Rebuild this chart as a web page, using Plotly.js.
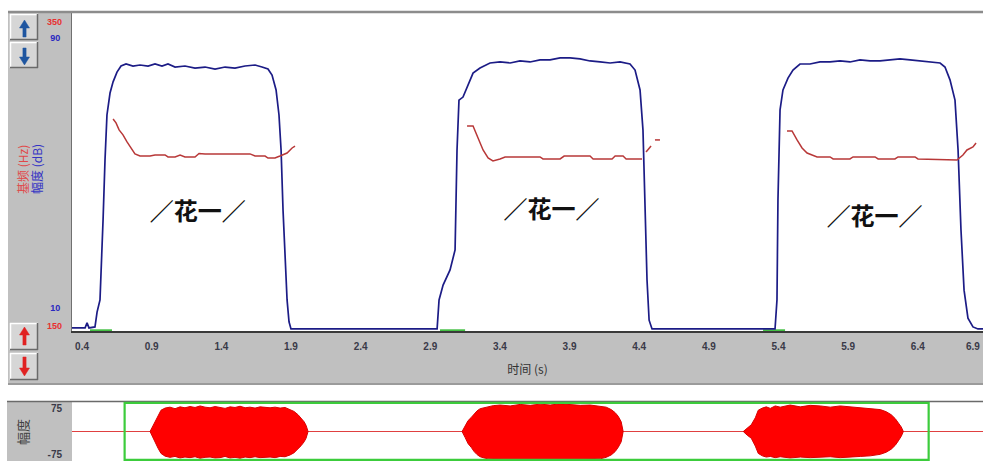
<!DOCTYPE html>
<html><head><meta charset="utf-8">
<script src="https://cdn.plot.ly/plotly-3.0.1.min.js"></script>
<style>html,body{margin:0;padding:0;background:#fff;}#chart{width:983px;height:461px;}</style>
</head><body><div id="chart"></div>
<script>
// ---------- data ----------
const xTickVals = [0.4,0.9,1.4,1.9,2.4,2.9,3.4,3.9,4.4,4.9,5.4,5.9,6.4,6.9];
const xTickText = ['0.4','0.9','1.4','1.9','2.4','2.9','3.4','3.9','4.4','4.9','5.4','5.9','6.4','6.9'];
const dbTickVals = [10, 90];
const hzTickVals = [150, 350];
const ampTickVals = [75, -75];
const ampTickText = ['75', '-75'];

const intensityTime = [0.328,0.422,0.436,0.450,0.493,0.508,0.529,0.544,0.551,0.565,0.579,0.601,0.623,0.651,0.680,0.716,0.766,0.816,0.874,0.924,0.974,1.017,1.068,1.139,1.211,1.283,1.355,1.427,1.498,1.570,1.642,1.692,1.735,1.764,1.793,1.814,1.829,1.843,1.857,1.872,1.886,1.900,2.200,2.600,2.949,2.963,2.992,3.042,3.078,3.092,3.106,3.135,3.171,3.207,3.257,3.329,3.401,3.473,3.544,3.616,3.688,3.760,3.832,3.904,3.975,4.047,4.119,4.191,4.262,4.334,4.370,4.406,4.427,4.442,4.456,4.471,4.492,4.800,5.100,5.375,5.389,5.396,5.411,5.432,5.468,5.504,5.554,5.626,5.698,5.770,5.842,5.913,5.985,6.057,6.129,6.201,6.272,6.344,6.416,6.488,6.560,6.595,6.631,6.667,6.689,6.710,6.732,6.760,6.796,6.832,6.868];
const intensityDb = [4.1,4.1,5.6,4.1,4.4,8.8,12.4,27.0,36.1,53.9,67.2,73.7,77.0,79.9,81.7,82.3,81.7,82.0,81.7,82.3,81.7,82.3,81.4,81.7,81.1,81.4,80.8,81.4,81.1,81.7,82.0,81.4,80.8,79.0,74.6,67.2,56.8,39.0,24.2,12.4,5.9,3.8,3.8,3.8,3.8,12.4,16.8,21.3,27.2,56.8,71.6,72.5,76.1,79.6,81.1,82.6,82.9,82.6,83.2,82.9,83.5,83.5,84.1,84.1,83.8,83.2,82.9,82.6,82.9,82.3,80.5,74.6,62.7,42.0,18.3,6.4,3.8,3.8,3.8,3.8,12.4,42.0,68.7,74.6,78.1,80.5,82.3,82.3,82.9,82.9,83.2,82.9,83.5,83.2,83.2,83.5,83.8,83.5,83.2,82.9,82.6,81.4,77.6,71.6,56.8,33.1,15.3,7.0,4.4,3.8,3.8];

const pitchTime = [0.623,0.644,0.666,0.694,0.723,0.752,0.780,0.816,0.888,0.924,0.996,1.017,1.068,1.104,1.139,1.211,1.240,1.283,1.462,1.606,1.642,1.714,1.735,1.785,1.821,1.872,1.908,1.929,null,3.164,3.207,3.243,3.279,3.315,3.350,3.401,3.437,3.616,3.688,3.709,3.832,3.861,4.047,4.069,4.205,4.227,4.284,4.306,4.420,null,4.449,4.485,null,4.513,4.549,null,5.461,5.497,5.533,5.569,5.605,5.641,5.677,5.770,5.792,5.913,5.935,6.093,6.115,6.236,6.258,6.380,6.401,6.681,6.724,6.753,6.796,6.818];
const pitchHz = [286.2,283.6,279.0,275.7,271.1,267.1,263.2,261.8,261.8,262.5,262.5,261.2,261.2,262.5,261.2,261.2,263.5,263.2,263.2,263.2,261.8,261.8,260.5,260.5,261.8,263.8,267.1,268.4,null,281.6,281.6,273.7,265.8,260.5,258.6,259.9,261.2,261.2,261.2,259.9,259.9,261.8,261.8,259.9,259.9,261.8,261.8,259.9,259.9,null,264.5,268.4,null,272.4,272.4,null,278.3,278.3,272.4,267.1,263.8,262.5,261.2,261.2,259.9,259.9,261.2,261.2,259.9,259.9,261.2,261.2,259.9,259.2,262.5,265.8,267.8,270.4];

const voicingTime = [0.457,0.615,null,2.970,3.150,null,5.289,5.447];
const voicingDb = [3.4,3.4,null,3.4,3.4,null,3.4,3.4];

const wave1Time = [0.535,0.551,0.575,0.600,0.624,0.657,0.697,0.738,0.779,0.819,0.860,0.901,0.942,0.982,1.023,1.064,1.104,1.145,1.186,1.226,1.267,1.308,1.348,1.389,1.430,1.470,1.511,1.552,1.593,1.633,1.674,1.706,1.739,1.763,1.788,1.804,1.820];
const wave1Top = [0,12,30,52,70,77,80,75,81,78,82,79,84,80,78,82,80,76,81,79,83,78,80,77,81,79,78,80,77,79,73,66,55,45,32,20,0];
const wave1Bottom = [0,-14,-32,-55,-72,-81,-85,-82,-87,-84,-86,-83,-88,-85,-84,-87,-86,-82,-87,-85,-88,-84,-86,-83,-86,-85,-84,-86,-82,-83,-77,-70,-58,-47,-34,-22,0];

const wave2Time = [3.073,3.098,3.122,3.147,3.171,3.195,3.220,3.252,3.285,3.326,3.383,3.464,3.545,3.627,3.708,3.789,3.871,3.952,4.034,4.115,4.196,4.245,4.286,4.318,4.343,4.367,4.383];
const wave2Top = [0,18,36,46,58,68,75,78,83,85,87,84,89,86,90,87,91,88,86,87,84,80,72,62,50,32,0];
const wave2Bottom = [0,-20,-40,-52,-66,-76,-83,-87,-90,-92,-91,-93,-95,-92,-94,-93,-95,-92,-93,-91,-90,-85,-77,-66,-52,-34,0];

const wave3Time = [5.360,5.392,5.425,5.458,5.482,5.515,5.547,5.580,5.620,5.661,5.742,5.824,5.905,5.986,6.068,6.149,6.231,6.312,6.393,6.475,6.523,6.564,6.597,6.621,6.645,6.662];
const wave3Top = [0,12,22,45,70,77,81,76,84,80,87,81,86,84,80,84,81,78,77,72,65,55,42,29,15,0];
const wave3Bottom = [0,-12,-22,-48,-72,-80,-84,-82,-86,-83,-87,-84,-86,-85,-83,-86,-84,-82,-80,-75,-68,-58,-45,-31,-16,0];

const syllableText = ['／花一／','／花一／','／花一／'];
const syllableTime = [1.23, 3.77, 6.09];
const syllableDb = [38, 38.5, 36.5];

// ---------- layout helpers ----------
const W = 983, H = 461;
const PX = x => x / W;
const PY = y => 1 - y / H;
const topRange = [0.328, 6.868];
const waveRange = [-0.10, 7.31];

const tickFont = {family: 'Liberation Sans, Arial, sans-serif', size: 10, color: '#3a3a48', weight: 'bold'};

function envelope(t, top, bot) {
  return {x: t.concat(t.slice().reverse()), y: top.concat(bot.slice().reverse())};
}
const waves = [[wave1Time, wave1Top, wave1Bottom],[wave2Time, wave2Top, wave2Bottom],[wave3Time, wave3Top, wave3Bottom]];

const traces = [
  {x: voicingTime, y: voicingDb, mode: 'lines', line: {color: '#44c044', width: 2}, xaxis: 'x', yaxis: 'y', connectgaps: false, hoverinfo: 'skip'},
  {x: intensityTime, y: intensityDb, mode: 'lines', line: {color: '#1c1c86', width: 1.7}, xaxis: 'x', yaxis: 'y', hoverinfo: 'skip'},
  {x: pitchTime, y: pitchHz, mode: 'lines', line: {color: '#b83838', width: 1.5}, xaxis: 'x', yaxis: 'y2', connectgaps: false, hoverinfo: 'skip'},
  {x: syllableTime, y: syllableDb, text: syllableText, mode: 'text', textposition: 'middle center',
   textfont: {family: 'Noto Sans CJK SC', size: 24, color: '#111', weight: 'bold'}, xaxis: 'x', yaxis: 'y', hoverinfo: 'skip'},
  {x: waveRange, y: [0, 0], mode: 'lines', line: {color: '#e04040', width: 1}, xaxis: 'x2', yaxis: 'y3', hoverinfo: 'skip'}
];
waves.forEach(w => {
  const e = envelope(w[0], w[1], w[2]);
  traces.push({x: e.x, y: e.y, mode: 'lines', fill: 'toself', fillcolor: '#ff0000',
    line: {color: '#d80000', width: 1}, xaxis: 'x2', yaxis: 'y3', hoverinfo: 'skip'});
});

function button(y0, y1) {
  return [
    {type: 'rect', xref: 'paper', yref: 'paper', x0: PX(10), x1: PX(38), y0: PY(y1), y1: PY(y0), fillcolor: '#d6d6d6', line: {width: 0}},
    {type: 'line', xref: 'paper', yref: 'paper', x0: PX(10), x1: PX(38), y0: PY(y0+0.5), y1: PY(y0+0.5), line: {color: '#ffffff', width: 1.5}},
    {type: 'line', xref: 'paper', yref: 'paper', x0: PX(10.5), x1: PX(10.5), y0: PY(y0), y1: PY(y1), line: {color: '#ffffff', width: 1.5}},
    {type: 'line', xref: 'paper', yref: 'paper', x0: PX(10), x1: PX(38), y0: PY(y1-0.5), y1: PY(y1-0.5), line: {color: '#6a6a6a', width: 1.5}},
    {type: 'line', xref: 'paper', yref: 'paper', x0: PX(37.5), x1: PX(37.5), y0: PY(y0), y1: PY(y1), line: {color: '#6a6a6a', width: 1.5}}
  ];
}
function arrow(cx, yTip, yEnd, color) {
  const dir = yEnd > yTip ? 1 : -1;
  const yb = yTip + dir * 8;
  const pts = [[cx, yTip], [cx + 5, yb], [cx + 1.6, yb], [cx + 1.6, yEnd], [cx - 1.6, yEnd], [cx - 1.6, yb], [cx - 5, yb]];
  const path = 'M ' + pts.map(p => PX(p[0]).toFixed(5) + ',' + PY(p[1]).toFixed(5)).join(' L ') + ' Z';
  return {type: 'path', xref: 'paper', yref: 'paper', path: path, fillcolor: color, line: {color: color, width: 0.5}};
}

const shapes = [
  {type: 'rect', xref: 'paper', yref: 'paper', x0: PX(8), x1: PX(72), y0: PY(383), y1: PY(12), fillcolor: '#c0c0c0', line: {width: 0}, layer: 'below'},
  {type: 'rect', xref: 'paper', yref: 'paper', x0: PX(72), x1: 1, y0: PY(383), y1: PY(331), fillcolor: '#c0c0c0', line: {width: 0}, layer: 'below'},
  {type: 'line', xref: 'paper', yref: 'paper', x0: PX(8), x1: 1, y0: PY(12), y1: PY(12), line: {color: '#8c8c8c', width: 2.5}},
  {type: 'line', xref: 'paper', yref: 'paper', x0: PX(8), x1: 1, y0: PY(384), y1: PY(384), line: {color: '#7a7a7a', width: 1.5}},
  {type: 'rect', xref: 'paper', yref: 'paper', x0: PX(7), x1: PX(72), y0: 0, y1: PY(402), fillcolor: '#c0c0c0', line: {width: 0}, layer: 'below'},
  {type: 'line', xref: 'paper', yref: 'paper', x0: PX(7), x1: 1, y0: PY(401.5), y1: PY(401.5), line: {color: '#6a6a6a', width: 1.5}},
  {type: 'rect', xref: 'x2', yref: 'y3 domain', x0: topRange[0], x1: topRange[1], y0: 0.02, y1: 0.985, line: {color: '#3ccc3c', width: 2.2}, fillcolor: 'rgba(0,0,0,0)'}
].concat(button(14, 40), button(42, 68), button(323, 350), button(353, 380),
  [arrow(24.5, 20, 37, '#1f56a0'), arrow(24.5, 65, 48, '#1f56a0'), arrow(24.5, 327, 345, '#e02222'), arrow(24.5, 376, 357, '#e02222')]);

const annotations = [
  {xref: 'paper', yref: 'paper', x: PX(22), y: PY(170), xanchor: 'center', yanchor: 'middle', text: '基频 (Hz)', textangle: -90, showarrow: false,
   font: {family: 'Noto Sans CJK SC', size: 12, color: '#e04848'}},
  {xref: 'paper', yref: 'paper', x: PX(37), y: PY(169), xanchor: 'center', yanchor: 'middle', text: '幅度 (dB)', textangle: -90, showarrow: false,
   font: {family: 'Noto Sans CJK SC', size: 12, color: '#3434c4'}},
  {xref: 'paper', yref: 'paper', x: PX(22), y: PY(432), xanchor: 'center', yanchor: 'middle', text: '幅度', textangle: -90, showarrow: false,
   font: {family: 'Noto Sans CJK SC', size: 13, color: '#404040'}},
  {xref: 'paper', yref: 'paper', x: PX(982), y: PY(346), xanchor: 'right', yanchor: 'middle', text: '6.9', showarrow: false,
   font: tickFont}
];

const layout = {
  width: W, height: H,
  margin: {l: 0, r: 0, t: 0, b: 0},
  paper_bgcolor: '#ffffff', plot_bgcolor: '#ffffff',
  showlegend: false,
  xaxis: {domain: [PX(72), 1], range: topRange, anchor: 'y', tickvals: xTickVals, ticktext: xTickText,
    ticks: '', tickfont: tickFont, ticklabelstandoff: 5, showgrid: false, zeroline: false,
    showline: true, linecolor: '#3a3a3a', linewidth: 2,
    title: {text: '时间 (s)', font: {family: 'Noto Sans CJK SC', size: 12, color: '#333'}, standoff: 15}},
  yaxis: {domain: [PY(331), PY(13)], range: [3.19, 97.41], anchor: 'x', tickvals: dbTickVals, ticks: '',
    tickfont: {family: 'Liberation Sans, Arial, sans-serif', size: 9, color: '#2828c0', weight: 'bold'},
    ticklabelstandoff: 9, showgrid: false, zeroline: false, showline: true, linecolor: '#707070', linewidth: 1},
  yaxis2: {overlaying: 'y', side: 'left', anchor: 'x', range: [146.7, 355.9], tickvals: hzTickVals, ticks: '',
    tickfont: {family: 'Liberation Sans, Arial, sans-serif', size: 9, color: '#e83030', weight: 'bold'},
    ticklabelstandoff: 9, showgrid: false, zeroline: false},
  xaxis2: {domain: [PX(72), 1], range: waveRange, anchor: 'y3', showticklabels: false, ticks: '',
    showgrid: false, zeroline: false, showline: false},
  yaxis3: {domain: [0, PY(402)], range: [-97, 97], anchor: 'x2', tickvals: ampTickVals, ticktext: ampTickText, ticks: '',
    tickfont: {family: 'Liberation Sans, Arial, sans-serif', size: 10, color: '#3a3a48', weight: 'bold'},
    ticklabelstandoff: 9, showgrid: false, zeroline: false, showline: false},
  shapes: shapes,
  annotations: annotations
};

Plotly.newPlot('chart', traces, layout, {staticPlot: true, displayModeBar: false});
</script></body></html>
